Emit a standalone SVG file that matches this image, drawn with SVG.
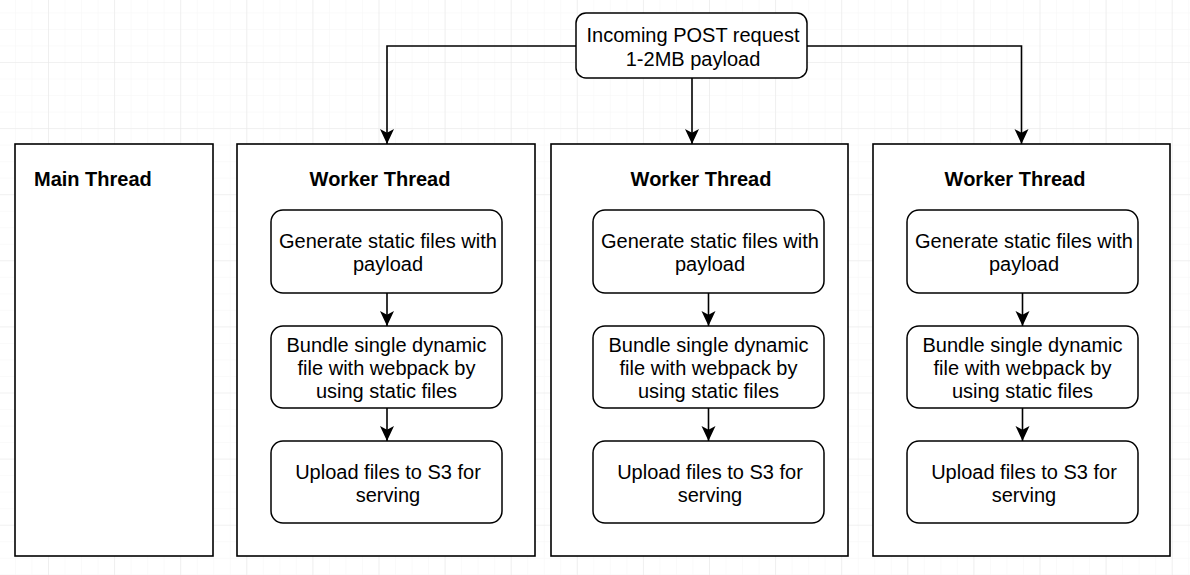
<svg xmlns="http://www.w3.org/2000/svg" width="1190" height="575" viewBox="0 0 1190 575">
<style>
.frame{fill:#fff;stroke:#000;stroke-width:1.6}
.step{fill:#fff;stroke:#000;stroke-width:1.5}
.t{font-family:"Liberation Sans",Arial,Helvetica,sans-serif;font-size:20px;fill:#000;text-anchor:middle}
.b{font-family:"Liberation Sans",Arial,Helvetica,sans-serif;font-size:20px;font-weight:bold;fill:#000;text-anchor:middle}
.c{fill:none;stroke:#000;stroke-width:1.6}
</style>
<defs>
<pattern id="minor" patternUnits="userSpaceOnUse" x="48" y="62" width="16.525" height="16.525">
<path d="M0,0 H16.525 M0,0 V16.525" fill="none" stroke="#f6f6f6" stroke-width="1"/>
</pattern>
<pattern id="major" patternUnits="userSpaceOnUse" x="48" y="62" width="66.1" height="66.1">
<path d="M0,0 H66.1 M0,0 V66.1" fill="none" stroke="#e8e8e8" stroke-width="1.2"/>
</pattern>
<marker id="arr" markerUnits="userSpaceOnUse" markerWidth="15" markerHeight="15" refX="15" refY="7.5" orient="auto">
<path d="M0,0.5 L15,7.5 L0,14.5 L3.8,7.5 Z" fill="#000"/>
</marker>
</defs>
<rect width="1190" height="575" fill="#fff"/>
<rect width="1190" height="575" fill="url(#minor)"/>
<rect width="1190" height="575" fill="url(#major)"/>

<g id="main-thread">
<rect class="frame" x="15" y="144" width="198" height="412"/>
<text class="b" x="34" y="186" style="text-anchor:start">Main Thread</text>
</g>

<g id="worker-1">
<rect class="frame" x="237" y="144" width="298" height="412"/>
<text class="b" x="380" y="186">Worker Thread</text>
</g>
<g id="worker-2">
<rect class="frame" x="551" y="144" width="297" height="412"/>
<text class="b" x="701" y="186">Worker Thread</text>
</g>
<g id="worker-3">
<rect class="frame" x="873" y="144" width="297" height="412"/>
<text class="b" x="1015" y="186">Worker Thread</text>
</g>

<g id="incoming">
<rect class="step" x="576" y="13" width="231" height="65" rx="10"/>
<text class="t" x="693" y="42">Incoming POST request</text>
<text class="t" x="693" y="66">1-2MB payload</text>
</g>

<g id="w1-generate">
<rect class="step" x="271" y="210" width="231" height="83" rx="12"/>
<text class="t" x="388" y="248">Generate static files with</text>
<text class="t" x="388" y="271">payload</text>
</g>
<g id="w1-bundle">
<rect class="step" x="271" y="326" width="231" height="82" rx="12"/>
<text class="t" x="386.5" y="352">Bundle single dynamic</text>
<text class="t" x="386.5" y="375">file with webpack by</text>
<text class="t" x="386.5" y="398">using static files</text>
</g>
<g id="w1-upload">
<rect class="step" x="271" y="441" width="231" height="82" rx="12"/>
<text class="t" x="388" y="479">Upload files to S3 for</text>
<text class="t" x="388" y="502">serving</text>
</g>

<g id="w2-generate">
<rect class="step" x="593" y="210" width="231" height="83" rx="12"/>
<text class="t" x="710" y="248">Generate static files with</text>
<text class="t" x="710" y="271">payload</text>
</g>
<g id="w2-bundle">
<rect class="step" x="593" y="326" width="231" height="82" rx="12"/>
<text class="t" x="708.5" y="352">Bundle single dynamic</text>
<text class="t" x="708.5" y="375">file with webpack by</text>
<text class="t" x="708.5" y="398">using static files</text>
</g>
<g id="w2-upload">
<rect class="step" x="593" y="441" width="231" height="82" rx="12"/>
<text class="t" x="710" y="479">Upload files to S3 for</text>
<text class="t" x="710" y="502">serving</text>
</g>

<g id="w3-generate">
<rect class="step" x="907" y="210" width="231" height="83" rx="12"/>
<text class="t" x="1024" y="248">Generate static files with</text>
<text class="t" x="1024" y="271">payload</text>
</g>
<g id="w3-bundle">
<rect class="step" x="907" y="326" width="231" height="82" rx="12"/>
<text class="t" x="1022.5" y="352">Bundle single dynamic</text>
<text class="t" x="1022.5" y="375">file with webpack by</text>
<text class="t" x="1022.5" y="398">using static files</text>
</g>
<g id="w3-upload">
<rect class="step" x="907" y="441" width="231" height="82" rx="12"/>
<text class="t" x="1024" y="479">Upload files to S3 for</text>
<text class="t" x="1024" y="502">serving</text>
</g>

<g id="connectors">
<path class="c" d="M576,46 H387 V144" marker-end="url(#arr)"/>
<path class="c" d="M692,78 V144" marker-end="url(#arr)"/>
<path class="c" d="M807,46 H1021.5 V144" marker-end="url(#arr)"/>
<path class="c" d="M387,293 V326" marker-end="url(#arr)"/>
<path class="c" d="M387,408 V441" marker-end="url(#arr)"/>
<path class="c" d="M708.5,293 V326" marker-end="url(#arr)"/>
<path class="c" d="M708.5,408 V441" marker-end="url(#arr)"/>
<path class="c" d="M1022.5,293 V326" marker-end="url(#arr)"/>
<path class="c" d="M1022.5,408 V441" marker-end="url(#arr)"/>
</g>
</svg>
